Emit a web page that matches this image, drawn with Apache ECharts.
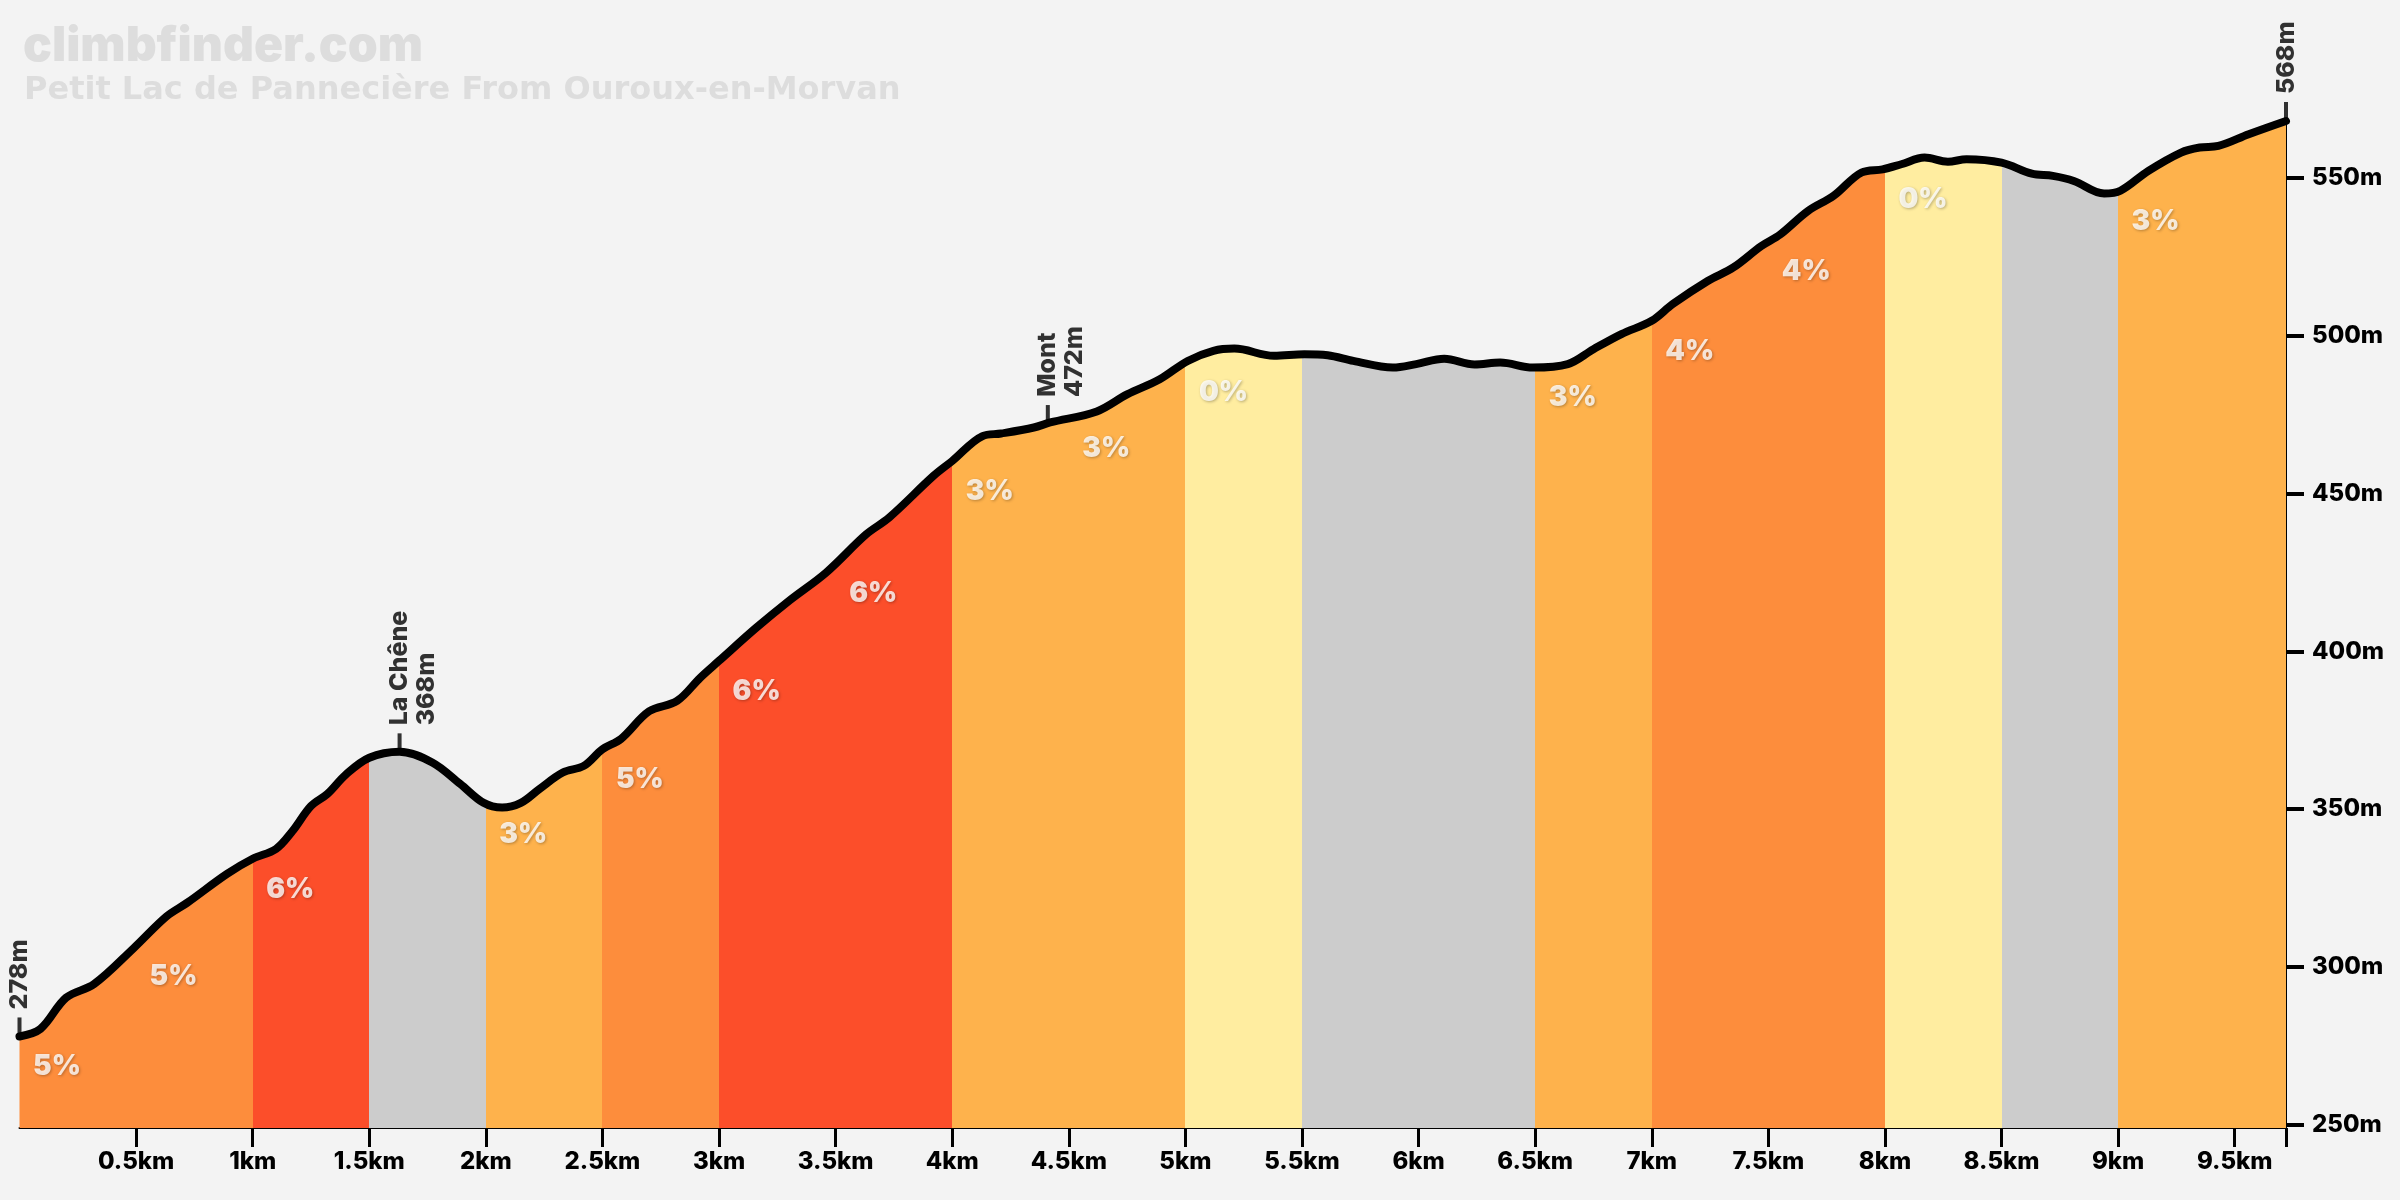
<!DOCTYPE html>
<html><head><meta charset="utf-8">
<script src="https://cdn.jsdelivr.net/npm/echarts@6/dist/echarts.min.js"></script>
<style>html,body{margin:0;padding:0;background:#f3f3f3}#c{width:2400px;height:1200px}</style>
</head><body><div id="c"></div>
<script>
// ---- data ----
const distKm = [0, 0.09, 0.2, 0.32, 0.49, 0.63, 0.72, 0.89, 1.0, 1.1, 1.17, 1.25, 1.32, 1.4, 1.5, 1.63, 1.77, 1.89, 1.99, 2.07, 2.15, 2.23, 2.33, 2.42, 2.5, 2.58, 2.7, 2.82, 2.92, 3.0, 3.16, 3.3, 3.46, 3.63, 3.73, 3.92, 4.0, 4.13, 4.21, 4.35, 4.42, 4.62, 4.75, 4.89, 5.01, 5.12, 5.21, 5.38, 5.51, 5.61, 5.72, 5.89, 5.99, 6.11, 6.24, 6.35, 6.49, 6.64, 6.75, 6.87, 7.0, 7.09, 7.24, 7.35, 7.47, 7.55, 7.67, 7.78, 7.9, 7.99, 8.07, 8.17, 8.27, 8.35, 8.5, 8.63, 8.72, 8.81, 8.94, 9.01, 9.13, 9.27, 9.35, 9.43, 9.56, 9.72];
const elevM = [278, 280.4, 290.3, 294.6, 306, 316, 320.4, 329.5, 334.3, 337.4, 343, 351, 354.8, 361, 366.3, 368.2, 364.8, 358, 352, 350.5, 352, 356.4, 361.6, 363.7, 369, 372.3, 381, 384.3, 391.7, 397, 407.5, 416, 425, 437, 442.4, 455.6, 460.3, 468.2, 469, 470.9, 472.5, 476, 481.4, 486.2, 492, 495.2, 495.9, 493.6, 494.1, 493.8, 492, 489.9, 491, 492.7, 490.9, 491.5, 489.9, 491, 495.7, 500.5, 504.7, 510, 517.3, 521.6, 528.4, 532, 539.5, 544.3, 551.7, 552.7, 554.3, 556.4, 555.1, 555.9, 554.8, 551.3, 550.6, 549, 545, 545.9, 552.2, 558, 559.6, 560.1, 563.8, 568];

const segStartKm   = [0, 0.5, 1, 1.5, 2, 2.5, 3, 3.5, 4, 4.5, 5, 5.5, 6, 6.5, 7, 7.5, 8, 8.5, 9];
const segStartElev = [278, 306.5, 334.3, 366.3, 351.5, 369, 397, 428, 460.3, 474, 491.6, 494, 491, 490, 504.7, 530, 552.7, 555, 545.7];
const segGrade     = [5, 5, 6, -3, 3, 5, 6, 6, 3, 3, 0, -1, -1, 3, 4, 4, 0, -2, 3];

const peakKm   = [0, 1.63, 4.41, 9.72];
const peakElev = [278, 368, 472, 568];
const peakName = ['', 'La Chêne', 'Mont', ''];

const xTickKm = [0.5, 1, 1.5, 2, 2.5, 3, 3.5, 4, 4.5, 5, 5.5, 6, 6.5, 7, 7.5, 8, 8.5, 9, 9.5];
const yTickM  = [250, 300, 350, 400, 450, 500, 550];
const totalKm = 9.72;
const maxElev = 568;

const titleText = 'climbfinder.com';
const subtitleText = 'Petit Lac de Pannecière From Ouroux-en-Morvan';

// ---- styling helpers ----
const FONT = 'Inter';
function gradeColor(g) {
  if (g < 0) return '#cccccc';
  if (g < 2) return '#ffeda0';
  if (g < 4) return '#feb24c';
  if (g < 6) return '#fd8d3c';
  return '#fc4e2a';
}

const profile = distKm.map((d, i) => [d, elevM[i]]);

const pieces = segStartKm.map((s, i) => ({
  gte: s,
  lt: i < segStartKm.length - 1 ? segStartKm[i + 1] : totalKm + 1,
  color: gradeColor(segGrade[i])
}));

const gradeLabels = [];
segStartKm.forEach((s, i) => {
  if (segGrade[i] >= 0) gradeLabels.push([s, segStartElev[i], segGrade[i] + '%']);
});

const peakData = peakKm.map((k, i) => {
  const two = !!peakName[i];
  const txt = two ? peakName[i] + '\n' + peakElev[i] + 'm' : peakElev[i] + 'm';
  return {
    value: [k, peakElev[i]],
    label: {
      formatter: txt,
      verticalAlign: two ? 'top' : 'middle',
      offset: two ? [0, -13.5] : [0, 0]
    }
  };
});

const chart = echarts.init(document.getElementById('c'), null, {renderer: 'canvas'});
chart.setOption({
  animation: false,
  backgroundColor: '#f3f3f3',
  title: [
    { text: titleText, left: 18, top: 18,
      textStyle: { fontFamily: FONT, fontWeight: 900, fontSize: 48, color: '#dddddd' } },
    { text: subtitleText, left: 19, top: 70,
      textStyle: { fontFamily: 'DejaVu Sans', fontWeight: 'bold', fontSize: 32, color: '#dddddd' } }
  ],
  grid: { left: 19.5, right: 114, top: 121, bottom: 72 },
  visualMap: { type: 'piecewise', show: false, dimension: 0, seriesIndex: 0, pieces: pieces },
  xAxis: {
    type: 'value', min: 0, max: totalKm,
    splitLine: { show: false },
    axisLine: { show: true, onZero: false, lineStyle: { color: '#000', width: 2 } },
    axisTick: { show: true, length: 19, lineStyle: { color: '#000', width: 3 },
      customValues: xTickKm.concat([totalKm]) },
    axisLabel: { customValues: xTickKm, margin: 22,
      fontFamily: FONT, fontWeight: 800, fontSize: 24, color: '#000',
      formatter: v => v + 'km' }
  },
  yAxis: {
    type: 'value', position: 'right', min: 249, max: maxElev,
    splitLine: { show: false },
    axisLine: { show: true, onZero: false, lineStyle: { color: '#000', width: 2 } },
    axisTick: { show: true, length: 18, lineStyle: { color: '#000', width: 4 },
      customValues: yTickM },
    axisLabel: { customValues: yTickM, margin: 26,
      fontFamily: FONT, fontWeight: 800, fontSize: 24, color: '#000',
      formatter: v => v + 'm' }
  },
  series: [
    { type: 'line', data: profile, smooth: 0.35, showSymbol: false, symbol: 'none',
      lineStyle: { width: 0, opacity: 0 },
      areaStyle: { opacity: 1 }, z: 1 },
    { type: 'line', data: profile, smooth: 0.35, showSymbol: false, symbol: 'none',
      clip: false,
      lineStyle: { color: '#000', width: 8, cap: 'round', join: 'round' }, z: 3 },
    { type: 'scatter', data: gradeLabels, symbolSize: 1, clip: false,
      itemStyle: { color: 'transparent' }, z: 4,
      label: { show: true, position: [14, 17], align: 'left', verticalAlign: 'top',
        formatter: p => p.value[2],
        fontFamily: FONT, fontWeight: 900, fontSize: 28, color: '#ffffff',
        textShadowColor: 'rgba(0,0,0,0.35)', textShadowBlur: 3,
        textShadowOffsetX: 1, textShadowOffsetY: 1 } },
    { type: 'scatter', data: peakData, symbol: 'rect', symbolSize: [4, 19],
      symbolOffset: [0, -9.5], itemStyle: { color: '#000' }, z: 5, clip: false,
      label: { show: true, position: 'top', distance: 8, rotate: 90,
        align: 'left', fontFamily: FONT, fontWeight: 800, fontSize: 25,
        lineHeight: 27, color: '#000' } }
  ]
});
</script></body></html>
